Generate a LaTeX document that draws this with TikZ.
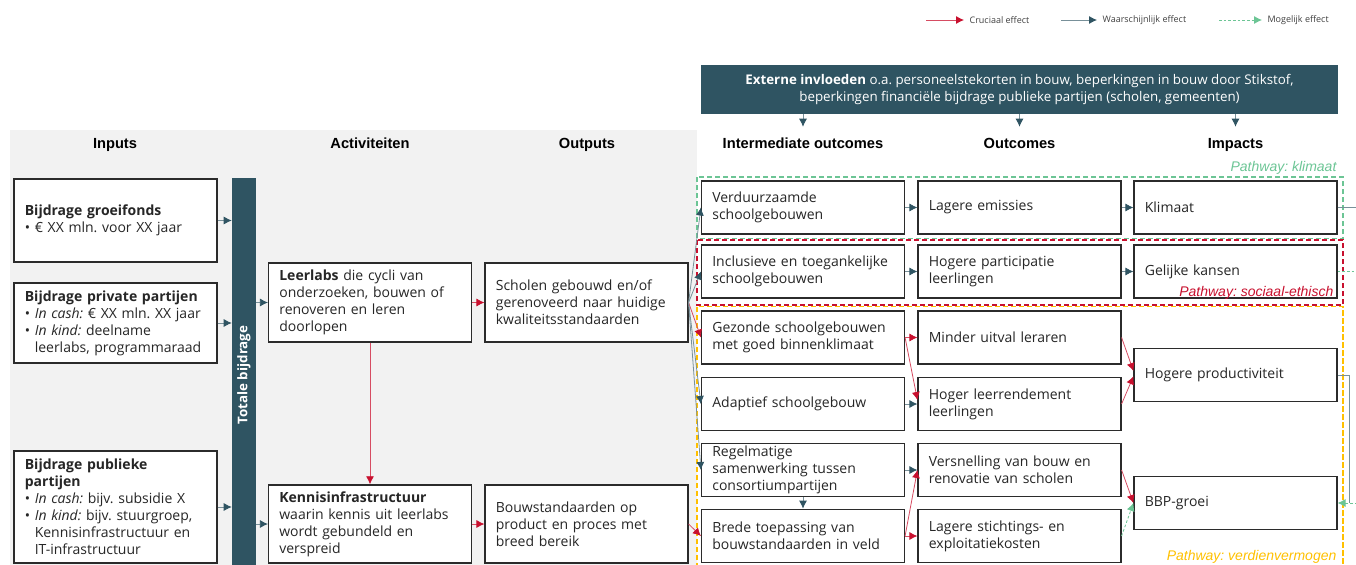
\documentclass[tikz,border=0pt]{standalone}
\usepackage{fontspec}
\setmainfont{Open Sans}
\newfontfamily\headfont{Liberation Sans}
\usetikzlibrary{arrows.meta}
\definecolor{waar}{HTML}{2F5462}
\definecolor{cruc}{HTML}{C8102E}
\definecolor{mog}{HTML}{6CC595}
\definecolor{geel}{HTML}{FFC000}
\definecolor{grijs}{HTML}{F2F2F2}
\definecolor{rand}{HTML}{2B2B2B}
\frenchspacing

\begin{document}
\begin{tikzpicture}[x=0.75pt, y=-0.75pt,
			box/.style={draw=rand, line width=1.1pt, fill=white, text=black!85, text width=136pt, inner xsep=8pt, inner ysep=1pt, minimum height=40pt, align=left, font=\fontsize{10.5}{12.75}\selectfont},
			header/.style={font=\headfont\bfseries\fontsize{11}{13}\selectfont, text height=8pt, text depth=2.5pt, inner ysep=8.25pt},
			crucial/.style={draw=cruc!75, line width=0.6pt, -{Latex[length=6pt, width=6pt, color=cruc]}},
			likely/.style={draw=waar!65, line width=0.6pt, -{Latex[length=6pt, width=6pt, color=waar]}},
			possible/.style={draw=mog, line width=0.6pt, dash pattern=on 2pt off 1.5pt, -{Latex[length=6pt, width=6pt]}},
			pathway/.style={font=\headfont\itshape\fontsize{10.5}{12}\selectfont, inner sep=1pt, anchor=east},
			legend/.style={font=\fontsize{6.75}{8}\selectfont, text=black!75, anchor=west, inner sep=1pt}]
			\clip (0,0) rectangle (1356,564);
			\fill[grijs] (10,130) rectangle (697,580);
			\draw[mog, line width=1.1pt, dash pattern=on 4pt off 2pt] (697,177) rectangle (1343,238.5);
			\draw[cruc, line width=1.1pt, dash pattern=on 4pt off 2pt] (697,240) rectangle (1343,305);
			\draw[geel, line width=1.1pt, dash pattern=on 4pt off 2pt] (697,306.5) rectangle (1343,600);

			\coordinate (lc1) at (926,20);
			\node[legend] (lt1) at (968,20) {Cruciaal effect};
			\coordinate (lc2) at (1061,20);
			\node[legend] (lt2) at (1101,20) {Waarschijnlijk effect};
			\coordinate (lc3) at (1219,20);
			\node[legend] (lt3) at (1266,20) {Mogelijk effect};
			\draw[crucial, shorten >=3pt] (lc1) -- (lt1.west);
			\draw[likely, shorten >=3pt] (lc2) -- (lt2.west);
			\draw[possible, shorten >=3pt] (lc3) -- (lt3.west);

			\node[fill=waar, minimum width=477.75pt, minimum height=36.75pt, text=white, align=center, font=\fontsize{10}{12.75}\selectfont] (ext) at (1019.5,89.5) {\textbf{Externe invloeden} o.a. personeelstekorten in bouw, beperkingen in bouw door Stikstof,\\beperkingen financiële bijdrage publieke partijen (scholen, gemeenten)};

			\node[header] (h1) at (115,145) {Inputs};
			\node[header] (h2) at (370,145) {Activiteiten};
			\node[header] (h3) at (587,145) {Outputs};
			\node[header] (h4) at (803,145) {Intermediate outcomes};
			\node[header] (h5) at (1019.5,145) {Outcomes};
			\node[header] (h6) at (1235.5,145) {Impacts};
			\draw[likely] (ext.south -| h4.north) -- (h4.north);
			\draw[likely] (ext.south -| h5.north) -- (h5.north);
			\draw[likely] (ext.south -| h6.north) -- (h6.north);

			\node[box, minimum height=62pt] (in1) at (115.5,220.5) {\textbf{Bijdrage groeifonds}\\• € XX mln. voor XX jaar};
			\node[box, minimum height=60pt] (in2) at (115.5,323) {\textbf{Bijdrage private partijen}\\• \textit{In cash:} € XX mln. XX jaar\\• \textit{In kind:} deelname\\\hphantom{• }leerlabs, programmaraad};
			\node[box, minimum height=84pt] (in3) at (115.5,507) {\textbf{Bijdrage publieke}\\\textbf{partijen}\\• \textit{In cash:} bijv. subsidie X\\• \textit{In kind:} bijv. stuurgroep,\\\hphantom{• }Kennisinfrastructuur en\\\hphantom{• }IT-infrastructuur};

			\node[fill=waar, minimum width=18pt, minimum height=296pt, inner sep=0pt, text=white, font=\bfseries\fontsize{10}{12}\selectfont] (bar) at (244,375) {\rotatebox{90}{Totale bijdrage}};

			\node[box, minimum height=59pt] (act1) at (370,302.5) {\textbf{Leerlabs} die cycli van\\onderzoeken, bouwen of\\renoveren en leren\\doorlopen};
			\node[box, minimum height=58.5pt] (act2) at (370,524) {\textbf{Kennisinfrastructuur}\\waarin kennis uit leerlabs\\wordt gebundeld en\\verspreid};
			\node[box, minimum height=59pt] (out1) at (586.5,302.5) {Scholen gebouwd en/of\\gerenoveerd naar huidige\\kwaliteitsstandaarden};
			\node[box, minimum height=58.5pt] (out2) at (586.5,524) {Bouwstandaarden op\\product en proces met\\breed bereik};

			\node[box] (io1) at (803,207.5) {Verduurzaamde\\schoolgebouwen};
			\node[box] (io2) at (803,271.5) {Inclusieve en toegankelijke\\schoolgebouwen};
			\node[box] (io3) at (803,337.5) {Gezonde schoolgebouwen\\met goed binnenklimaat};
			\node[box] (io4) at (803,404) {Adaptief schoolgebouw};
			\node[box] (io5) at (803,470) {Regelmatige\\samenwerking tussen\\consortiumpartijen};
			\node[box] (io6) at (803,536) {Brede toepassing van\\bouwstandaarden in veld};

			\node[box] (om1) at (1019.5,207.5) {Lagere emissies};
			\node[box] (om2) at (1019.5,271.5) {Hogere participatie\\leerlingen};
			\node[box] (om3) at (1019.5,337.5) {Minder uitval leraren};
			\node[box] (om4) at (1019.5,404) {Hoger leerrendement\\leerlingen};
			\node[box] (om5) at (1019.5,470) {Versnelling van bouw en\\renovatie van scholen};
			\node[box] (om6) at (1019.5,536) {Lagere stichtings- en\\exploitatiekosten};

			\node[box] (im1) at (1235.5,207.5) {Klimaat};
			\node[box] (im2) at (1235.5,271.5) {Gelijke kansen};
			\node[box] (im3) at (1235.5,375) {Hogere productiviteit};
			\node[box] (im4) at (1235.5,503) {BBP-groei};

			\draw[likely] (in1.east) -- (in1.east -| bar.west);
			\draw[likely] (in2.east) -- (in2.east -| bar.west);
			\draw[likely] (in3.east) -- (in3.east -| bar.west);
			\draw[likely] (bar.east |- act1.west) -- (act1.west);
			\draw[likely] (bar.east |- act2.west) -- (act2.west);
			\draw[crucial] (act1.east) -- (out1.west);
			\draw[crucial] (act2.east) -- (out2.west);
			\draw[crucial] (act1.south) -- (act2.north);

			\draw[likely] (out1.east) -- (io1.west);
			\draw[likely] (out1.east) -- (io2.west);
			\draw[crucial] (out1.east) -- (io3.west);
			\draw[likely] (out1.east) -- (io4.west);
			\draw[likely] (out1.east) -- (io5.west);
			\draw[crucial] (out2.east) -- (io6.west);
			\draw[likely] (io5.south) -- (io6.north);

			\draw[likely] (io1.east) -- (om1.west);
			\draw[likely] (io2.east) -- (om2.west);
			\draw[crucial] (io3.east) -- (om3.west);
			\draw[crucial] (io3.east) -- ([yshift=3pt]om4.west);
			\draw[likely] (io4.east) -- (om4.west);
			\draw[likely] (io5.east) -- (om5.west);
			\draw[crucial] (io6.east) -- (om5.west);
			\draw[crucial] (io6.east) -- (om6.west);

			\draw[likely] (om1.east) -- (im1.west);
			\draw[likely] (om2.east) -- (im2.west);
			\draw[crucial] (om3.east) -- ([yshift=3pt]im3.west);
			\draw[crucial] (om4.east) -- ([yshift=-1pt]im3.west);
			\draw[crucial] (om5.east) -- (im4.west);
			\draw[possible] (om6.east) -- (im4.west);

			\coordinate (klimuit) at (1362,207.5);
			\coordinate (kansuit) at (1362,271.5);
			\coordinate (prodbocht) at (1349,503);
			\coordinate (bbpin) at (1362,503);
			\draw[waar!65, line width=0.6pt] (im1.east) -- (klimuit);
			\draw[mog, line width=0.6pt, dash pattern=on 2pt off 1.5pt] (im2.east) -- (kansuit);
			\draw[waar!65, line width=0.6pt] (im3.east) -| (prodbocht);
			\draw[possible] (bbpin) -- (im4.east);

			\node[pathway, text=mog] (pw1) at (1338,168) {Pathway: klimaat};
			\node[pathway, text=cruc] (pw2) at (1335,293) {Pathway: sociaal-ethisch};
			\node[pathway, text=geel] (pw3) at (1338,557) {Pathway: verdienvermogen};
		\end{tikzpicture}
\end{document}
